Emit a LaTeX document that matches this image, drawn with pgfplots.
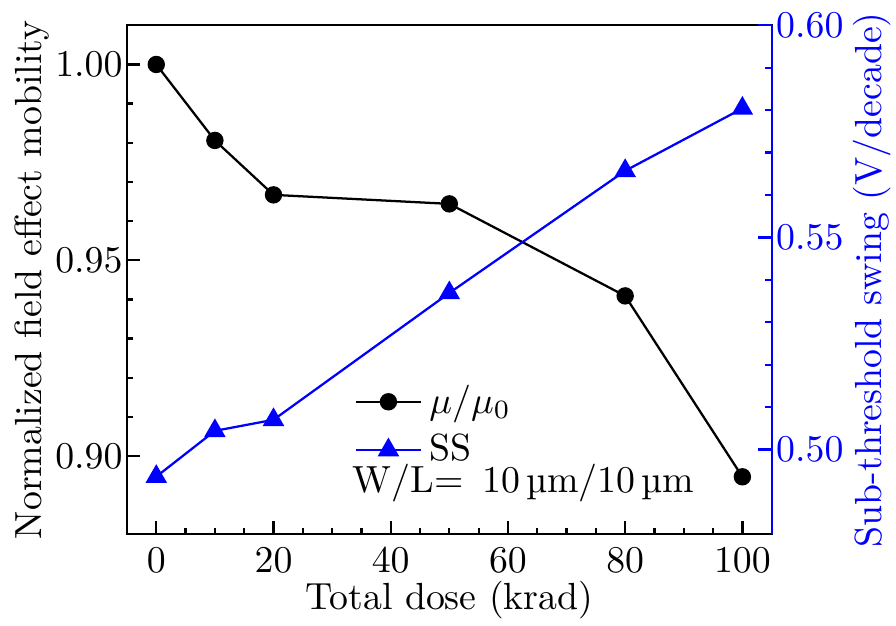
\documentclass[border=0pt]{standalone}
\usepackage{pgfplots}
\pgfplotsset{compat=1.18}
\begin{document}
\begin{tikzpicture}
\pgfplotsset{
  every axis/.append style={
    width=170.6pt, height=134.7pt, scale only axis,
    xmin=-5, xmax=105,
    major tick length=3.5pt, minor tick length=1.7pt,
    tick align=inside,
    axis line style={line width=0.6pt},
  }
}
\begin{axis}[name=ax,
  ymin=0.88, ymax=1.01,
  xtick={0,20,40,60,80,100}, minor x tick num=3,
  ytick={0.90,0.95,1.00}, minor y tick num=4,
  xtick pos=bottom, ytick pos=left,
  tick style={black, line width=0.6pt},
  yticklabel style={inner sep=1pt, /pgf/number format/.cd,fixed,fixed zerofill,precision=2},
  xlabel={Total dose (krad)},
  xlabel shift=-4.5pt,
  ylabel={Normalized field effect mobility},
  ylabel shift=-3pt,
]
\addplot[black, line width=0.6pt, mark=*, mark size=2pt] coordinates {(0,1.000) (10,0.9806) (20,0.9667) (50,0.9644) (80,0.9409) (100,0.8947)};
\end{axis}
\begin{axis}[name=ax2,
  ymin=0.48, ymax=0.60,
  axis x line=none, axis y line*=right,
  yticklabel pos=right,
  ytick={0.50,0.55,0.60}, minor y tick num=4,
  y axis line style={blue, line width=0.6pt},
  tick style={blue, line width=0.6pt},
  yticklabel style={blue, inner sep=1pt, /pgf/number format/.cd,fixed,fixed zerofill,precision=2},
  ylabel={Sub-threshold swing (V/decade)}, ylabel style={blue},
  ylabel shift=-2pt,
  legend style={draw=none, fill=none, at={(0.335,0.325)}, anchor=north west},
  legend cell align=left,
]
\addlegendimage{black, line width=0.6pt, mark=*, mark size=2pt}
\addlegendentry{$\mu/\mu_0$}
\addplot[blue, line width=0.6pt, mark=triangle*, mark size=2.7pt] coordinates {(0,0.4936) (10,0.5044) (20,0.5070) (50,0.5369) (80,0.5657) (100,0.5804)};
\addlegendentry{SS}
\node[anchor=west, inner sep=0pt] at (rel axis cs:0.349,0.10) {W/L$=$\hspace{5pt}10\,\textmu m/10\,\textmu m};
\end{axis}
\pgfresetboundingbox
\path (ax.south west) ++(-33.6pt,-24pt) rectangle ([shift={(32.9pt,6.7pt)}]ax.north east);
\end{tikzpicture}
\end{document}
